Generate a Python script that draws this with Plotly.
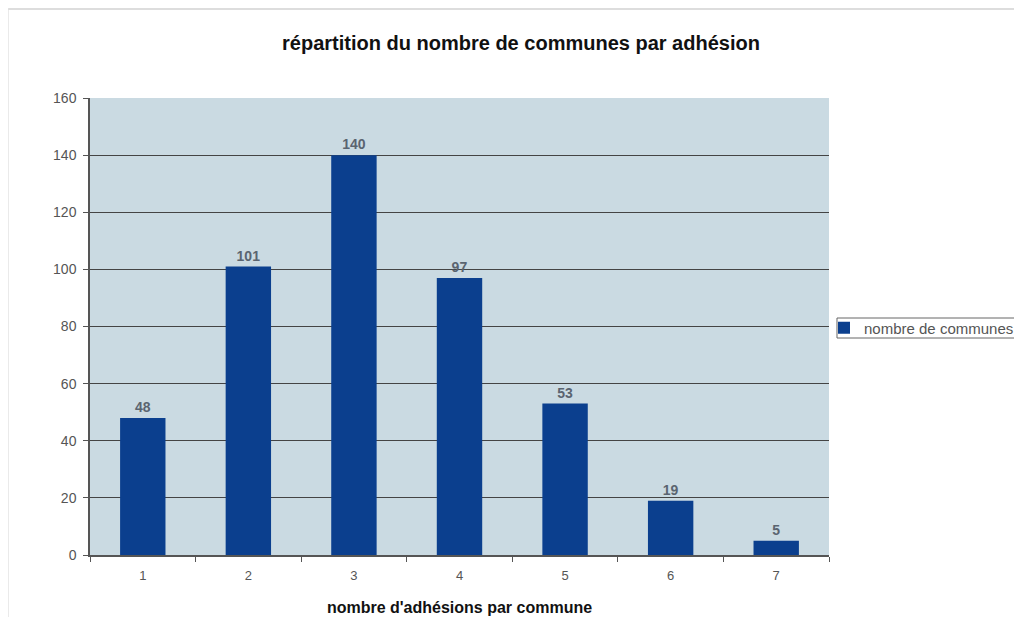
import plotly.graph_objects as go

categories = ["1", "2", "3", "4", "5", "6", "7"]
values = [48, 101, 140, 97, 53, 19, 5]
series_name = "nombre de communes"
title_text = "répartition du nombre de communes par adhésion"
x_title = "nombre d'adhésions par commune"

W, H = 1022, 627
OFF = 8  # page body offset
L, R, T, B = 90 - OFF, W - 830 + OFF, 98 - OFF, H - 555 + OFF
PW, PH = W - L - R, H - T - B

def px_x(page_x):
    return (page_x - 90) / PW

def px_y(page_y):
    return 1 - (page_y - 98) / PH

fig = go.Figure()
fig.add_trace(go.Bar(
    x=categories, y=values, name=series_name,
    marker=dict(color="#0b3f8e", line=dict(width=0)),
    text=["<b>" + str(v) + "</b>" for v in values], textposition="outside",
    textfont=dict(family="Liberation Sans, Arial", size=14, color="#5a6470"),
    cliponaxis=False, showlegend=True,
))

fig.update_layout(
    width=W, height=H,
    margin=dict(l=L, r=R, t=T, b=B),
    paper_bgcolor="white", plot_bgcolor="#cadae2",
    bargap=0.57,
    font=dict(family="Liberation Sans, Arial", color="#333"),
    title=dict(text="<b>" + title_text + "</b>", x=(521 - OFF) / W, xanchor="center",
               y=1 - (43 - OFF) / H, yanchor="middle",
               font=dict(size=20, color="#111")),
    legend=dict(x=px_x(824), xanchor="left",
                y=px_y(328), yanchor="middle",
                borderwidth=0, bgcolor="rgba(0,0,0,0)",
                font=dict(size=15, color="#555"), itemwidth=30,
                tracegroupgap=0),
    showlegend=True,
)
fig.update_xaxes(
    type="category", showline=True, linecolor="#555", linewidth=1.5,
    ticks="outside", tickson="boundaries", ticklen=5, tickcolor="#555",
    tickfont=dict(size=13, color="#555"), ticklabelstandoff=8,
    title=dict(text="<b>" + x_title + "</b>", font=dict(size=16, color="#111"), standoff=19),
    showgrid=False,
)
fig.update_yaxes(
    range=[0, 160], dtick=20, showline=True, linecolor="#555", linewidth=1.5,
    ticks="outside", ticklen=5, tickcolor="#555",
    tickfont=dict(size=14, color="#555"), ticklabelstandoff=4,
    showgrid=True, gridcolor="#444", gridwidth=1.2, zeroline=False,
)
# legend frame
fig.add_shape(type="rect", xref="paper", yref="paper",
              x0=px_x(838), x1=px_x(1040), y0=px_y(338), y1=px_y(318),
              line=dict(color="#666", width=1))
# faint outer frame of the chart
top = px_y(9)
left = px_x(8)
fig.add_shape(type="line", xref="paper", yref="paper",
              x0=left, x1=px_x(1030), y0=top, y1=top,
              line=dict(color="#bbb", width=1))
fig.add_shape(type="line", xref="paper", yref="paper",
              x0=left, x1=left, y0=px_y(617), y1=top,
              line=dict(color="#ddd", width=1))

fig.write_html("out.html")
